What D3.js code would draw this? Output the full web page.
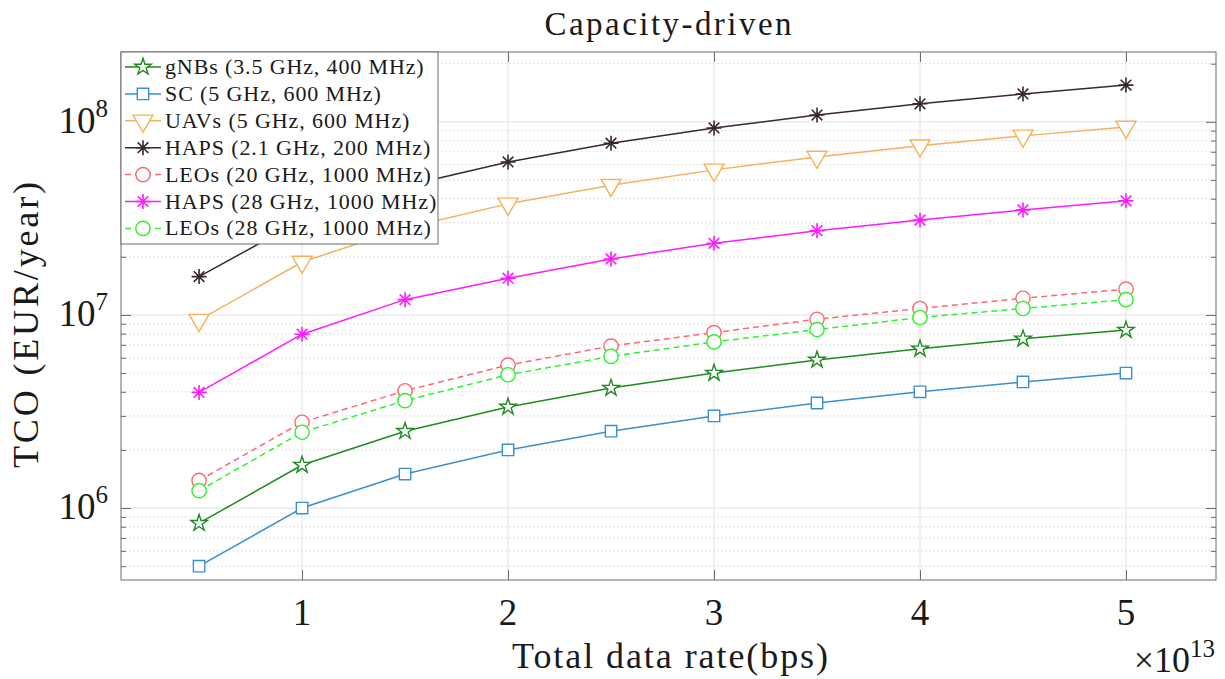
<!DOCTYPE html>
<html>
<head>
<meta charset="utf-8">
<script src="https://cdn.jsdelivr.net/npm/d3@7"></script>
<style>
  body { margin: 0; background: #fff; }
  text { font-family: "Liberation Serif", "Times New Roman", serif; fill: #1a1a1a; }
</style>
</head>
<body>
<svg id="chart" width="1225" height="679"></svg>
<script>
const WIDTH = 1225;
const HEIGHT = 679;

// total data rate (bps)
const rates = [0.5e13, 1e13, 1.5e13, 2e13, 2.5e13, 3e13, 3.5e13, 4e13, 4.5e13, 5e13];

// TCO (EUR/year)
const gnbs = [8.35e5, 1.67e6, 2.5e6, 3.34e6, 4.18e6, 5.0e6, 5.85e6, 6.68e6, 7.52e6, 8.35e6];
const sc = [5.0e5, 1.0e6, 1.5e6, 2.0e6, 2.5e6, 3.0e6, 3.5e6, 4.0e6, 4.5e6, 5.0e6];
const uavs = [9.4e6, 1.88e7, 2.82e7, 3.76e7, 4.7e7, 5.64e7, 6.58e7, 7.52e7, 8.46e7, 9.4e7];
const haps21 = [1.58e7, 3.1e7, 4.65e7, 6.2e7, 7.75e7, 9.3e7, 1.085e8, 1.24e8, 1.395e8, 1.55e8];
const leos20 = [1.39e6, 2.78e6, 4.05e6, 5.5e6, 6.9e6, 8.1e6, 9.5e6, 1.08e7, 1.22e7, 1.36e7];
const haps28 = [3.97e6, 7.95e6, 1.2e7, 1.55e7, 1.95e7, 2.35e7, 2.73e7, 3.1e7, 3.5e7, 3.9e7];
const leos28 = [1.23e6, 2.47e6, 3.6e6, 4.9e6, 6.1e6, 7.25e6, 8.4e6, 9.7e6, 1.08e7, 1.2e7];

const seriesNames = [
  "gNBs (3.5 GHz, 400 MHz)",
  "SC (5 GHz, 600 MHz)",
  "UAVs (5 GHz, 600 MHz)",
  "HAPS (2.1 GHz, 200 MHz)",
  "LEOs (20 GHz, 1000 MHz)",
  "HAPS (28 GHz, 1000 MHz)",
  "LEOs (28 GHz, 1000 MHz)"
];
const seriesValues = [gnbs, sc, uavs, haps21, leos20, haps28, leos28];
const seriesColors = ["#1f8a1f", "#3a8fd0", "#f5b05a", "#3b2633", "#ff6673", "#ff1aff", "#2ef02e"];
const seriesMarkers = ["star", "square", "triangle", "asterisk", "circle", "asterisk", "circle"];
const seriesDashed = [false, false, false, false, true, false, true];

const xTicks = [1e13, 2e13, 3e13, 4e13, 5e13];
const yDecades = [1e6, 1e7, 1e8];

const margin = { left: 121, top: 52, right: WIDTH - 1216, bottom: HEIGHT - 580 };
const plotW = WIDTH - margin.left - margin.right;
const plotH = HEIGHT - margin.top - margin.bottom;

const svg = d3.select("#chart");

const x = d3.scaleLinear().domain([0.121e13, 5.437e13]).range([0, plotW]);
const y = d3.scaleLog().domain([4.24e5, 2.3e8]).range([plotH, 0]);

const g = svg.append("g").attr("transform", `translate(${margin.left},${margin.top})`);

// minor y values 2..9 x decade, within domain
const yMinor = [];
for (const dec of [1e5, 1e6, 1e7, 1e8]) {
  for (let k = 2; k <= 9; k++) {
    const v = k * dec;
    if (v > y.domain()[0] && v < y.domain()[1]) yMinor.push(v);
  }
}

// grid
g.append("g")
  .selectAll("line")
  .data(yMinor)
  .join("line")
  .attr("x1", 0)
  .attr("x2", plotW)
  .attr("y1", d => y(d))
  .attr("y2", d => y(d))
  .attr("stroke", "#d4d4d4")
  .attr("stroke-width", 1)
  .attr("stroke-dasharray", "1.5,2.5");

g.append("g")
  .selectAll("line")
  .data(yDecades)
  .join("line")
  .attr("x1", 0)
  .attr("x2", plotW)
  .attr("y1", d => y(d))
  .attr("y2", d => y(d))
  .attr("stroke", "#e2e2e2")
  .attr("stroke-width", 1);

g.append("g")
  .selectAll("line")
  .data(xTicks)
  .join("line")
  .attr("x1", d => x(d))
  .attr("x2", d => x(d))
  .attr("y1", 0)
  .attr("y2", plotH)
  .attr("stroke", "#e2e2e2")
  .attr("stroke-width", 1);

// axes (ticks inward, box on)
const axisColor = "#6b6b6b";
const xBottom = g.append("g")
  .attr("transform", `translate(0,${plotH})`)
  .call(d3.axisBottom(x).tickValues(xTicks).tickSize(-10).tickFormat(""));
const xTop = g.append("g")
  .call(d3.axisTop(x).tickValues(xTicks).tickSize(-10).tickFormat(""));
const yLeft = g.append("g")
  .call(d3.axisLeft(y).tickValues(yDecades).tickSize(-10).tickFormat(""));
const yRight = g.append("g")
  .attr("transform", `translate(${plotW},0)`)
  .call(d3.axisRight(y).tickValues(yDecades).tickSize(-10).tickFormat(""));
const yLeftMinor = g.append("g")
  .call(d3.axisLeft(y).tickValues(yMinor).tickSize(-5).tickFormat(""));
const yRightMinor = g.append("g")
  .attr("transform", `translate(${plotW},0)`)
  .call(d3.axisRight(y).tickValues(yMinor).tickSize(-5).tickFormat(""));
for (const a of [xBottom, xTop, yLeft, yRight, yLeftMinor, yRightMinor]) {
  a.select(".domain").remove();
  a.selectAll("line").attr("stroke", axisColor);
}
g.append("rect")
  .attr("width", plotW)
  .attr("height", plotH)
  .attr("fill", "none")
  .attr("stroke", axisColor)
  .attr("stroke-width", 1);

// tick labels
g.append("g")
  .selectAll("text")
  .data(xTicks)
  .join("text")
  .attr("x", d => x(d))
  .attr("y", plotH + 45)
  .attr("text-anchor", "middle")
  .style("font-size", "37px")
  .text(d => d / 1e13);

const yLab = g.append("g")
  .selectAll("text")
  .data(yDecades)
  .join("text")
  .attr("x", -13)
  .attr("y", d => y(d) + 11)
  .attr("text-anchor", "end")
  .style("font-size", "37px");
yLab.append("tspan").text("10");
yLab.append("tspan")
  .attr("dy", -16)
  .style("font-size", "25px")
  .text(d => Math.round(Math.log10(d)));

// exponent of x axis
const xExp = g.append("text")
  .attr("x", plotW - 1)
  .attr("y", plotH + 92)
  .attr("text-anchor", "end")
  .style("font-size", "36px");
xExp.append("tspan").text("\u00d710");
xExp.append("tspan").attr("dy", -15).style("font-size", "25px").text("13");

// axis titles
g.append("text")
  .attr("x", 670 - margin.left)
  .attr("y", plotH + 88)
  .attr("text-anchor", "middle")
  .attr("textLength", 316)
  .attr("lengthAdjust", "spacing")
  .style("font-size", "36px")
  .text("Total data rate(bps)");

svg.append("text")
  .attr("transform", "translate(38,325) rotate(-90)")
  .attr("text-anchor", "middle")
  .attr("textLength", 286)
  .attr("lengthAdjust", "spacing")
  .style("font-size", "36px")
  .text("TCO (EUR/year)");

svg.append("text")
  .attr("x", 668)
  .attr("y", 35)
  .attr("text-anchor", "middle")
  .attr("textLength", 247)
  .attr("lengthAdjust", "spacing")
  .style("font-size", "33px")
  .text("Capacity-driven");

// markers
const asteriskPath = r => {
  const d = r * Math.SQRT1_2;
  return `M${-r},0L${r},0M0,${-r}L0,${r}M${-d},${-d}L${d},${d}M${-d},${d}L${d},${-d}`;
};
function markerPath(type) {
  if (type === "star") return d3.symbol(d3.symbolStar, 85)();
  if (type === "square") return d3.symbol(d3.symbolSquare, 130)();
  if (type === "triangle") return d3.symbol(d3.symbolTriangle, 170)();
  if (type === "circle") return d3.symbol(d3.symbolCircle, 160)();
  return asteriskPath(7.5);
}
function drawMarker(sel, type, color) {
  sel.append("path")
    .attr("d", markerPath(type))
    .attr("transform", type === "triangle" ? "rotate(180)" : null)
    .attr("fill", type === "asterisk" ? "none" : "#fff")
    .attr("stroke", color)
    .attr("stroke-width", type === "asterisk" ? 1.6 : 1.4);
}

const line = d3.line()
  .x((d, i) => x(rates[i]))
  .y(d => y(d));

const seriesG = g.append("g");
seriesValues.forEach((vals, s) => {
  const sg = seriesG.append("g");
  sg.append("path")
    .datum(vals)
    .attr("d", line)
    .attr("fill", "none")
    .attr("stroke", seriesColors[s])
    .attr("stroke-width", 1.5)
    .attr("stroke-dasharray", seriesDashed[s] ? "6,4" : null);
  sg.selectAll("g.mk")
    .data(vals)
    .join("g")
    .attr("class", "mk")
    .attr("transform", (d, i) => `translate(${x(rates[i])},${y(d)})`)
    .each(function() { drawMarker(d3.select(this), seriesMarkers[s], seriesColors[s]); });
});

// legend
const legend = g.append("g");
const rowH = 26.9;
legend.append("rect")
  .attr("x", 0)
  .attr("y", 0)
  .attr("width", 317)
  .attr("height", 192)
  .attr("fill", "#fff")
  .attr("stroke", axisColor)
  .attr("stroke-width", 1);
seriesNames.forEach((name, s) => {
  const row = legend.append("g").attr("transform", `translate(0,${15 + s * rowH})`);
  row.append("line")
    .attr("x1", 4)
    .attr("x2", 40)
    .attr("stroke", seriesColors[s])
    .attr("stroke-width", 1.5)
    .attr("stroke-dasharray", seriesDashed[s] ? "6,4" : null);
  drawMarker(row.append("g").attr("transform", "translate(22,0)"), seriesMarkers[s], seriesColors[s]);
  const t = row.append("text")
    .attr("x", 44)
    .attr("y", 7)
    .style("font-size", "22px")
    .text(name);
  // widen slightly to the reference's wider serif
  t.attr("textLength", t.node().getComputedTextLength() * 1.08).attr("lengthAdjust", "spacing");
});
</script>
</body>
</html>
